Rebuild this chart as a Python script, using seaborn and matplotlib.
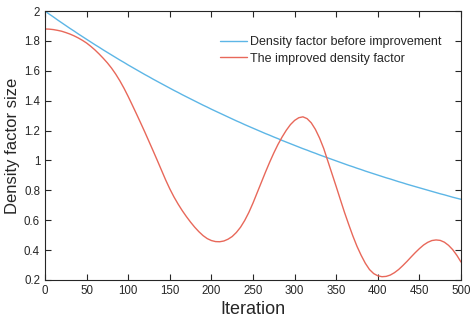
import numpy as np
import pandas as pd
import matplotlib
matplotlib.use("Agg")
import matplotlib.pyplot as plt
import seaborn as sns

iterations = list(range(0, 501, 5))
before = [2.000, 1.980, 1.961, 1.941, 1.922, 1.903, 1.884, 1.866, 1.847, 1.829,
          1.811, 1.793, 1.775, 1.758, 1.740, 1.723, 1.706, 1.689, 1.672, 1.656,
          1.639, 1.623, 1.607, 1.591, 1.575, 1.560, 1.544, 1.529, 1.514, 1.499,
          1.484, 1.469, 1.455, 1.440, 1.426, 1.412, 1.398, 1.384, 1.370, 1.357,
          1.343, 1.330, 1.317, 1.304, 1.291, 1.278, 1.265, 1.253, 1.240, 1.228,
          1.216, 1.204, 1.192, 1.180, 1.169, 1.157, 1.146, 1.134, 1.123, 1.112,
          1.101, 1.090, 1.079, 1.069, 1.058, 1.048, 1.037, 1.027, 1.017, 1.007,
          0.997, 0.987, 0.977, 0.967, 0.958, 0.948, 0.939, 0.929, 0.920, 0.911,
          0.902, 0.893, 0.884, 0.876, 0.867, 0.858, 0.850, 0.841, 0.833, 0.825,
          0.817, 0.809, 0.801, 0.793, 0.785, 0.777, 0.770, 0.762, 0.754, 0.747,
          0.740]
improved = [1.880, 1.879, 1.876, 1.871, 1.865, 1.856, 1.846, 1.834, 1.820, 1.804,
            1.786, 1.764, 1.740, 1.713, 1.684, 1.653, 1.618, 1.578, 1.533, 1.483,
            1.428, 1.370, 1.311, 1.251, 1.190, 1.127, 1.064, 1.000, 0.935, 0.870,
            0.810, 0.756, 0.708, 0.664, 0.624, 0.587, 0.553, 0.523, 0.497, 0.477,
            0.464, 0.457, 0.456, 0.461, 0.473, 0.491, 0.518, 0.553, 0.598, 0.652,
            0.715, 0.784, 0.853, 0.922, 0.988, 1.050, 1.107, 1.157, 1.202, 1.240,
            1.268, 1.286, 1.292, 1.280, 1.252, 1.208, 1.150, 1.080, 0.995, 0.910,
            0.825, 0.738, 0.652, 0.572, 0.495, 0.425, 0.365, 0.312, 0.270, 0.243,
            0.228, 0.222, 0.224, 0.233, 0.249, 0.270, 0.296, 0.324, 0.354, 0.383,
            0.410, 0.434, 0.452, 0.464, 0.468, 0.465, 0.453, 0.432, 0.403, 0.365,
            0.320]
series_names = ["Density factor before improvement", "The improved density factor"]
colors = ["#5DB6E6", "#E8685A"]

df = pd.DataFrame({
    "Iteration": iterations * 2,
    "value": before + improved,
    "series": [series_names[0]] * len(iterations) + [series_names[1]] * len(iterations),
})

sns.set_style("white")
plt.rcParams["font.family"] = ["Liberation Sans", "DejaVu Sans"]

fig = plt.figure(figsize=(4.74, 3.25), dpi=100)
ax = fig.add_axes([0.0949, 0.1385, 0.8777, 0.8275])
sns.lineplot(data=df, x="Iteration", y="value", hue="series",
             palette=dict(zip(series_names, colors)), linewidth=1.0, ax=ax)

ax.set_xlim(0, 500)
ax.set_ylim(0.2, 2.0)
ax.set_xticks(range(0, 501, 50))
ax.set_yticks([0.2, 0.4, 0.6, 0.8, 1.0, 1.2, 1.4, 1.6, 1.8, 2.0])
ax.set_yticklabels(["0.2", "0.4", "0.6", "0.8", "1", "1.2", "1.4", "1.6", "1.8", "2"])
ax.tick_params(direction="in", length=4, width=0.8, colors="#262626",
               labelsize=8.3, top=True, right=True, bottom=True, left=True,
               labeltop=False, labelright=False)
for s in ax.spines.values():
    s.set_color("#262626")
    s.set_linewidth(0.8)
ax.set_xlabel("Iteration", fontsize=13, labelpad=3)
ax.set_ylabel("Density factor size", fontsize=12)
ax.yaxis.set_label_coords(-0.06, 0.5)

leg = ax.legend(loc="upper right", bbox_to_anchor=(0.974, 0.94), frameon=False,
                fontsize=9, handlelength=2.2, handletextpad=0.2,
                labelspacing=0.38, borderaxespad=0.3)

fig.savefig("out.png", dpi=100)
